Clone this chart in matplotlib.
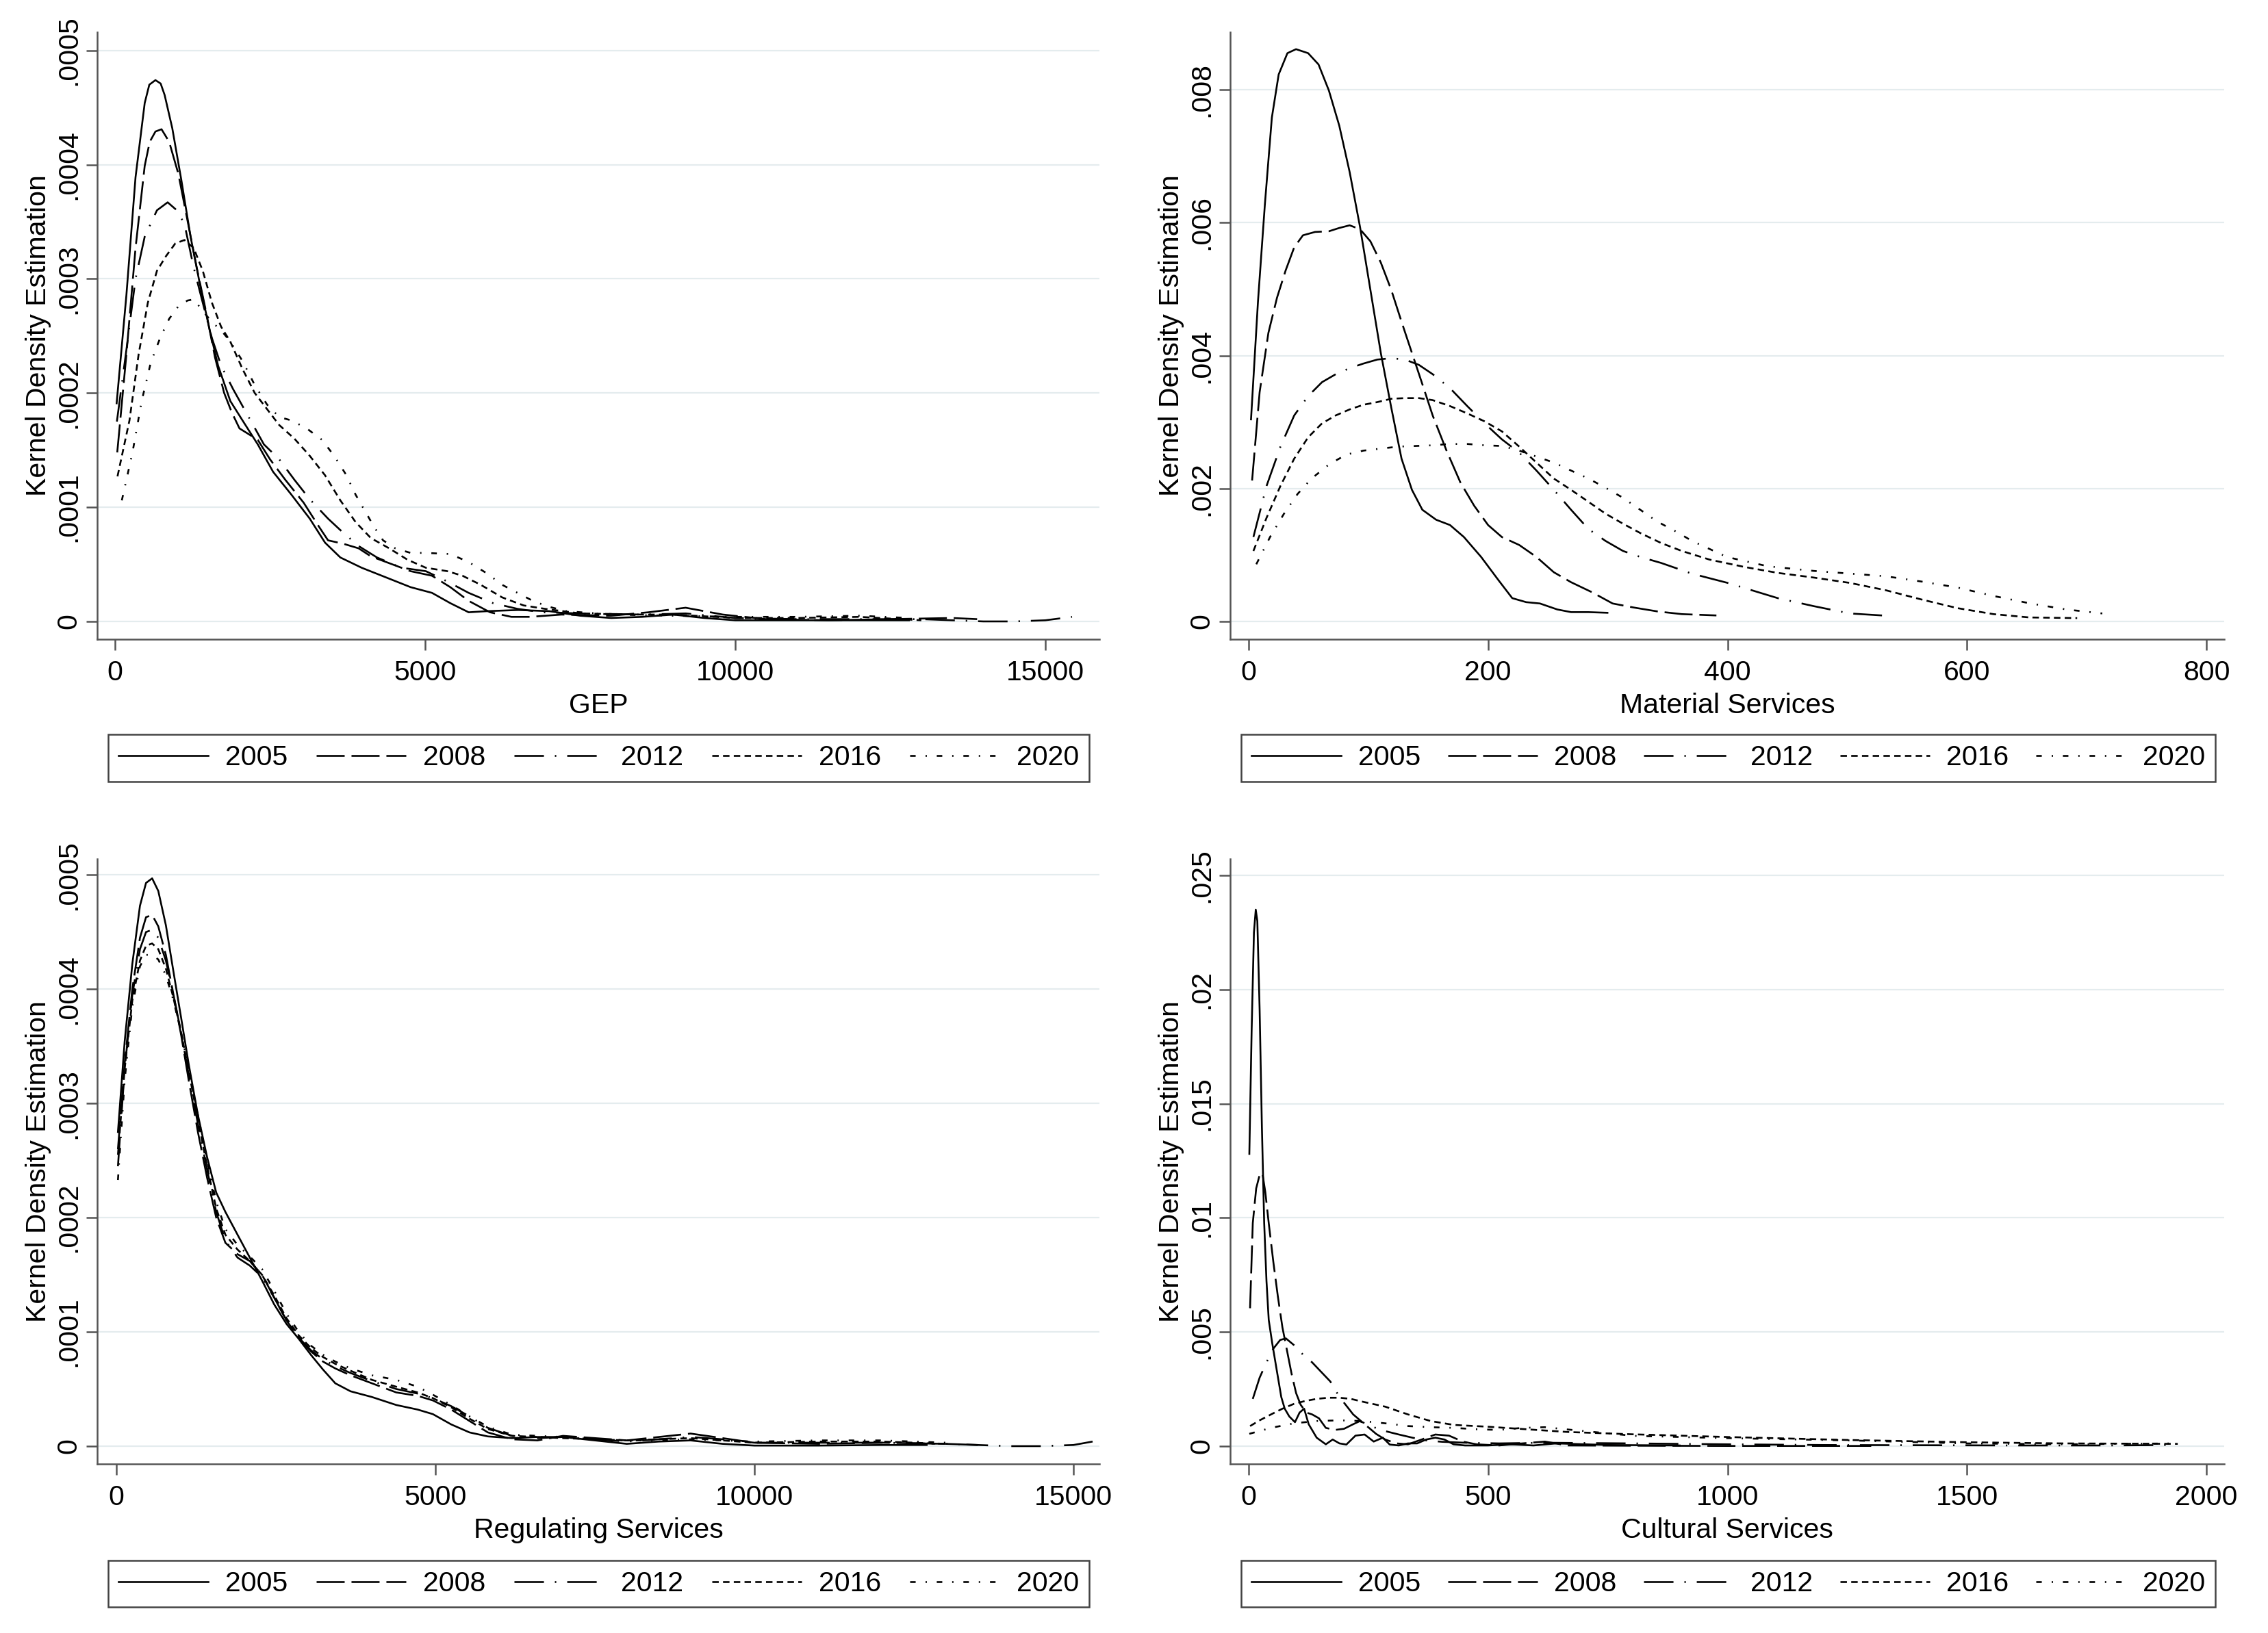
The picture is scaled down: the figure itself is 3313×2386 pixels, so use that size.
import numpy as np
import matplotlib
matplotlib.use("Agg")
import matplotlib.pyplot as plt
from matplotlib.lines import Line2D

plt.rcParams["font.family"] = ["Liberation Sans", "DejaVu Sans"]
plt.rcParams["lines.scale_dashes"] = False

YEARS = ["2005", "2008", "2012", "2016", "2020"]

# ---- GEP (density in 1e-4) ----
gep_x_2005 = [26, 184, 331, 479, 553, 652, 736, 800, 923, 1071, 1218, 1366, 1514, 1662, 1859, 2056, 2302, 2549, 2844, 3140,
              3386, 3633, 3977, 4372, 4766, 5111, 5406, 5702, 6000, 6500, 7000, 7500, 8000, 8500, 9000, 9500, 10000, 11000, 12000, 12800]
gep_y_2005 = [1.91, 2.86, 3.89, 4.54, 4.70, 4.74, 4.71, 4.61, 4.32, 3.86, 3.37, 2.96, 2.58, 2.24, 1.93, 1.76, 1.55, 1.31, 1.11, 0.90,
              0.69, 0.56, 0.47, 0.385, 0.30, 0.25, 0.16, 0.08, 0.09, 0.10, 0.09, 0.05, 0.03, 0.04, 0.06, 0.03, 0.01, 0.01, 0.01, 0.01]
gep_x_2008 = [36, 184, 331, 479, 560, 652, 750, 873, 1021, 1169, 1317, 1465, 1613, 1760, 1883, 2007, 2155, 2302, 2499, 2746,
              3041, 3288, 3435, 3682, 3928, 4125, 4421, 4766, 5111, 5406, 5702, 6047, 6392, 6688, 7200, 8000, 8600, 9200, 9800, 10500,
              11500, 12500, 13500, 13900]
gep_y_2008 = [1.48, 2.34, 3.27, 3.99, 4.20, 4.29, 4.31, 4.20, 3.92, 3.51, 3.10, 2.72, 2.31, 2.00, 1.83, 1.69, 1.64, 1.59, 1.42, 1.24,
              1.04, 0.83, 0.71, 0.68, 0.64, 0.57, 0.51, 0.44, 0.40, 0.30, 0.18, 0.08, 0.04, 0.04, 0.06, 0.05, 0.08, 0.12, 0.06, 0.02,
              0.01, 0.02, 0.03, 0.02]
gep_x_2012 = [30, 184, 331, 479, 676, 849, 997, 1120, 1268, 1415, 1563, 1711, 1908, 2155, 2401, 2647, 2893, 3140, 3435, 3633,
              3928, 4224, 4618, 5012, 5357, 5702, 6096, 6490, 6884, 7500, 8500, 9200, 10000, 11000, 12000, 13000, 13500, 14000, 14500, 15000,
              15430]
gep_y_2012 = [1.75, 2.38, 3.00, 3.37, 3.60, 3.67, 3.60, 3.48, 3.10, 2.79, 2.48, 2.24, 2.03, 1.79, 1.55, 1.42, 1.24, 1.07, 0.90, 0.80,
              0.66, 0.56, 0.47, 0.44, 0.35, 0.25, 0.16, 0.11, 0.08, 0.07, 0.06, 0.07, 0.03, 0.02, 0.02, 0.02, 0.01, 0.0, 0.0, 0.01,
              0.04]
gep_x_2016 = [40, 233, 381, 529, 676, 824, 972, 1120, 1268, 1415, 1563, 1711, 1859, 2056, 2253, 2450, 2647, 2893, 3140, 3386,
              3633, 3879, 4125, 4421, 4717, 5012, 5357, 5603, 5899, 6244, 6589, 6934, 7500, 8500, 9000, 10000, 11000, 12000, 13000]
gep_y_2016 = [1.27, 1.76, 2.34, 2.79, 3.07, 3.20, 3.31, 3.34, 3.27, 3.07, 2.79, 2.58, 2.45, 2.21, 2.00, 1.86, 1.72, 1.60, 1.45, 1.28,
              1.06, 0.87, 0.73, 0.64, 0.54, 0.47, 0.44, 0.40, 0.32, 0.21, 0.14, 0.11, 0.07, 0.06, 0.06, 0.03, 0.03, 0.04, 0.01]
gep_x_2020 = [110, 282, 430, 578, 726, 873, 1021, 1169, 1268, 1415, 1563, 1711, 1859, 2056, 2253, 2450, 2647, 2844, 3091, 3337,
              3534, 3731, 3879, 4027, 4175, 4322, 4519, 4766, 5012, 5406, 5702, 5998, 6244, 6490, 6737, 6983, 7278, 8000, 9000, 10000,
              11000, 12000, 12800]
gep_y_2020 = [1.06, 1.48, 1.93, 2.27, 2.48, 2.65, 2.76, 2.81, 2.82, 2.72, 2.62, 2.55, 2.45, 2.28, 2.07, 1.90, 1.79, 1.76, 1.69, 1.59,
              1.45, 1.28, 1.11, 0.97, 0.83, 0.71, 0.64, 0.60, 0.60, 0.59, 0.52, 0.42, 0.32, 0.25, 0.18, 0.13, 0.09, 0.06, 0.05, 0.04,
              0.04, 0.05, 0.03]

# ---- Material Services (density in 1e-3) ----
mat_x_2005 = [2, 7.8, 13.6, 19.4, 25.1, 32.4, 39.6, 49.7, 58.4, 67.0, 75.7, 84.4, 93.1, 101.7, 110.4, 119.1, 127.7, 136.4, 145.1, 156.6,
              168.2, 179.8, 194.2, 208.7, 220.2, 231.8, 243.3, 257.8, 269.3, 283.8, 299.7]
mat_y_2005 = [3.04, 4.81, 6.28, 7.58, 8.23, 8.55, 8.61, 8.55, 8.38, 7.99, 7.46, 6.76, 5.93, 4.99, 4.04, 3.22, 2.45, 1.98, 1.68, 1.53,
              1.45, 1.27, 0.97, 0.62, 0.35, 0.29, 0.27, 0.18, 0.14, 0.14, 0.13]
mat_x_2008 = [2.9, 9.2, 16.5, 23.7, 30.9, 38.1, 45.4, 55.5, 67.0, 75.7, 84.4, 93.1, 101.7, 110.4, 119.1, 127.7, 136.4, 145.1, 153.7, 165.3,
              176.9, 188.4, 200.0, 211.5, 226.0, 240.4, 254.9, 269.3, 286.7, 304.0, 321.4, 341.6, 361.8, 390.7]
mat_y_2008 = [2.12, 3.45, 4.34, 4.87, 5.28, 5.63, 5.81, 5.86, 5.87, 5.92, 5.96, 5.90, 5.72, 5.40, 4.99, 4.51, 4.04, 3.57, 3.10, 2.57,
              2.09, 1.74, 1.45, 1.27, 1.15, 0.97, 0.74, 0.59, 0.44, 0.27, 0.21, 0.15, 0.11, 0.09]
mat_x_2012 = [4.0, 15.0, 26.6, 38.1, 49.7, 61.3, 72.8, 84.4, 95.9, 107.5, 119.1, 130.6, 142.2, 153.7, 168.2, 182.6, 197.1, 211.5, 226.0, 240.4,
              254.9, 269.3, 283.8, 298.2, 312.7, 327.1, 344.5, 370, 400, 442, 472, 502, 529]
mat_y_2012 = [1.27, 2.04, 2.63, 3.10, 3.39, 3.60, 3.72, 3.81, 3.88, 3.94, 3.96, 3.94, 3.86, 3.72, 3.51, 3.24, 2.98, 2.74, 2.54, 2.27,
              1.98, 1.68, 1.39, 1.21, 1.06, 0.97, 0.88, 0.72, 0.58, 0.35, 0.23, 0.12, 0.09]
mat_x_2016 = [4.0, 15.0, 26.6, 38.1, 49.7, 61.3, 72.8, 84.4, 95.9, 107.5, 119.1, 130.6, 142.2, 153.7, 168.2, 182.6, 197.1, 211.5, 226.0, 240.4,
              254.9, 269.3, 283.8, 298.2, 312.7, 327.1, 344.5, 361.8, 385, 414, 442, 472, 502, 532, 562, 592, 622, 652, 692]
mat_y_2016 = [1.06, 1.56, 2.04, 2.45, 2.77, 2.98, 3.10, 3.19, 3.26, 3.30, 3.35, 3.36, 3.36, 3.33, 3.24, 3.13, 3.01, 2.86, 2.63, 2.39,
              2.15, 1.98, 1.80, 1.62, 1.47, 1.33, 1.18, 1.06, 0.93, 0.82, 0.73, 0.66, 0.58, 0.47, 0.33, 0.20, 0.11, 0.06, 0.05]
mat_x_2020 = [6.4, 17.9, 29.5, 41.0, 52.6, 67.0, 81.5, 95.9, 110.4, 124.8, 139.3, 153.7, 168.2, 182.6, 197.1, 211.5, 226.0, 240.4, 254.9, 269.3,
              283.8, 298.2, 312.7, 327.1, 341.6, 356.1, 370.5, 385.0, 399.4, 413.9, 433.6, 472, 502, 532, 562, 592, 623, 653, 683, 713]
mat_y_2020 = [0.86, 1.27, 1.62, 1.92, 2.15, 2.36, 2.51, 2.57, 2.60, 2.63, 2.64, 2.65, 2.67, 2.67, 2.65, 2.64, 2.57, 2.48, 2.39, 2.27,
              2.15, 2.01, 1.86, 1.68, 1.50, 1.36, 1.21, 1.09, 0.97, 0.91, 0.83, 0.76, 0.72, 0.68, 0.60, 0.51, 0.38, 0.27, 0.18, 0.12]

# ---- Regulating Services (density in 1e-4) ----
reg_x = [25, 130, 250, 370, 465, 561, 657, 776, 896, 1015, 1135, 1278, 1422, 1565, 1709, 1900, 2092, 2283, 2474, 2666,
         2857, 3048, 3239, 3431, 3670, 4005, 4387, 4722, 4961, 5248, 5535, 5822, 6200, 6600, 7000, 7500, 8000, 8500, 9000, 9500,
         10000, 11000, 12000]
reg_x_2005 = reg_x + [12700]
reg_y_2005 = [2.75, 3.54, 4.22, 4.73, 4.93, 4.97, 4.86, 4.56, 4.15, 3.75, 3.34, 2.90, 2.53, 2.22, 2.05, 1.85, 1.65, 1.45, 1.24, 1.07,
              0.94, 0.80, 0.67, 0.55, 0.48, 0.43, 0.36, 0.32, 0.28, 0.19, 0.12, 0.085, 0.07, 0.08, 0.08, 0.05, 0.02, 0.04, 0.05, 0.02,
              0.005, 0.005, 0.01, 0.01]
reg_x_2008 = reg_x + [13000, 13500]
reg_y_2008 = [2.6, 3.35, 4.0, 4.45, 4.63, 4.65, 4.55, 4.30, 3.95, 3.60, 3.20, 2.75, 2.35, 2.00, 1.78, 1.68, 1.62, 1.50, 1.30, 1.10,
              0.95, 0.83, 0.74, 0.68, 0.62, 0.55, 0.47, 0.44, 0.40, 0.32, 0.22, 0.12, 0.06, 0.05, 0.09, 0.07, 0.05, 0.08, 0.11, 0.07,
              0.03, 0.02, 0.03, 0.02, 0.01]
reg_x_2012 = reg_x + [13000, 14000, 14500, 15000, 15300]
reg_y_2012 = [2.45, 3.3, 3.95, 4.35, 4.5, 4.52, 4.45, 4.25, 3.95, 3.62, 3.25, 2.82, 2.42, 2.05, 1.80, 1.65, 1.58, 1.48, 1.30, 1.10,
              0.95, 0.84, 0.76, 0.70, 0.64, 0.57, 0.50, 0.46, 0.42, 0.35, 0.26, 0.16, 0.09, 0.07, 0.08, 0.06, 0.04, 0.06, 0.08, 0.06,
              0.03, 0.03, 0.03, 0.02, 0.0, 0.0, 0.01, 0.04]
reg_x_2016 = reg_x + [13000]
reg_y_2016 = [2.55, 3.3, 3.9, 4.25, 4.38, 4.40, 4.35, 4.18, 3.92, 3.62, 3.28, 2.86, 2.45, 2.08, 1.85, 1.72, 1.62, 1.50, 1.32, 1.12,
              0.97, 0.86, 0.78, 0.72, 0.66, 0.58, 0.52, 0.47, 0.42, 0.34, 0.24, 0.15, 0.09, 0.08, 0.07, 0.06, 0.05, 0.06, 0.07, 0.05,
              0.03, 0.04, 0.04, 0.02]
reg_x_2020 = reg_x + [13000]
reg_y_2020 = [2.33, 3.2, 3.85, 4.2, 4.3, 4.30, 4.26, 4.12, 3.90, 3.62, 3.30, 2.90, 2.50, 2.14, 1.90, 1.76, 1.66, 1.55, 1.36, 1.16,
              1.00, 0.88, 0.80, 0.74, 0.68, 0.62, 0.58, 0.52, 0.45, 0.36, 0.26, 0.17, 0.10, 0.09, 0.08, 0.06, 0.05, 0.05, 0.06, 0.05,
              0.04, 0.05, 0.05, 0.03]

# ---- Cultural Services (density in 1e-3) ----
cul_x_2005 = [1.4, 6.2, 11.0, 14.8, 18.1, 22.9, 27.6, 32.4, 37.2, 41.9, 49.1, 58.6, 68.1, 75.3, 84.8, 96.7, 106.3, 115.8, 125.3, 142.0,
              161.1, 175.4, 189.6, 204.0, 223.0, 242.1, 261.1, 280.2, 294.5, 313.5, 332.6, 351.7, 370.7, 389.8, 408.8, 427.9, 451.7, 499.4, 547.0, 594.7,
              642.3, 750, 900]
cul_y_2005 = [12.8, 18.2, 22.5, 23.5, 23.0, 19.1, 14.0, 9.77, 7.23, 5.53, 4.52, 3.33, 2.15, 1.64, 1.30, 1.05, 1.47, 1.64, 0.96, 0.37,
              0.08, 0.29, 0.12, 0.07, 0.46, 0.51, 0.20, 0.37, 0.07, 0.03, 0.12, 0.12, 0.29, 0.37, 0.29, 0.08, 0.03, 0.03, 0.08, 0.03,
              0.12, 0.05, 0.03]
cul_x_2008 = [2.9, 8.6, 15.7, 22.9, 28.6, 34.8, 41.9, 51.5, 61.0, 70.5, 80.1, 89.6, 99.1, 108.6, 120.6, 132.5, 146.8, 161.1, 180.1, 199.2,
              218.2, 232.5, 246.8, 265.9, 284.9, 308.8, 332.6, 361.2, 389.8, 418.4, 447.0, 475.5, 523.0, 571.0, 618.5, 666.0, 800, 1000, 1200, 1300]
cul_y_2008 = [6.04, 9.77, 11.29, 11.88, 11.97, 11.12, 9.77, 8.07, 6.55, 5.20, 4.18, 3.17, 2.32, 1.81, 1.47, 1.39, 1.22, 0.80, 0.71, 0.76,
              0.96, 1.10, 0.88, 0.54, 0.29, 0.12, 0.08, 0.29, 0.51, 0.46, 0.20, 0.08, 0.03, 0.12, 0.20, 0.03, 0.02, 0.01, 0.01, 0.01]
cul_x_2012 = [8.6, 22.9, 37.2, 51.5, 65.8, 77.7, 94.3, 113.4, 132.5, 151.5, 170.6, 184.9, 199.2, 218.2, 237.3, 261.1, 285.0, 313.5, 342.0, 370.7,
              404.0, 451.7, 523.0, 618.5, 800, 1000, 1200, 1400, 1600, 1800, 1930]
cul_y_2012 = [2.07, 3.00, 3.67, 4.27, 4.65, 4.72, 4.43, 4.01, 3.67, 3.25, 2.83, 2.32, 1.90, 1.39, 1.05, 0.83, 0.66, 0.51, 0.37, 0.25,
              0.19, 0.15, 0.12, 0.15, 0.12, 0.08, 0.05, 0.04, 0.03, 0.03, 0.05]
cul_x_2016 = [3.0, 22.9, 46.7, 70.5, 94.3, 118.2, 142.0, 165.8, 189.7, 213.5, 237.3, 285.0, 332.6, 380.0, 428.0, 500, 666, 800, 1000, 1250,
              1500, 1700, 1940]
cul_y_2016 = [0.88, 1.13, 1.39, 1.64, 1.85, 1.98, 2.07, 2.12, 2.12, 2.07, 1.95, 1.73, 1.39, 1.10, 0.93, 0.85, 0.62, 0.52, 0.40, 0.27,
              0.17, 0.12, 0.10]
cul_x_2020 = [1.4, 46.7, 94.3, 142.0, 189.7, 237.3, 285.0, 332.6, 380.0, 428.0, 475.5, 523.0, 571.0, 618.5, 666.0, 805, 1000, 1256, 1497, 1707,
              1933]
cul_y_2020 = [0.54, 0.80, 1.00, 1.10, 1.13, 1.10, 1.00, 0.88, 0.83, 0.80, 0.74, 0.71, 0.80, 0.83, 0.73, 0.45, 0.35, 0.25, 0.12, 0.08,
              0.12]

XLABELS = ["GEP", "Material Services", "Regulating Services", "Cultural Services"]
UNITS = [1e-4, 1e-3, 1e-4, 1e-3]
XTICKS = [[0, 5000, 10000, 15000], [0, 200, 400, 600, 800], [0, 5000, 10000, 15000], [0, 500, 1000, 1500, 2000]]
YTICKS = [[0, .0001, .0002, .0003, .0004, .0005], [0, .002, .004, .006, .008],
          [0, .0001, .0002, .0003, .0004, .0005], [0, .005, .01, .015, .02, .025]]
YTICKLABELS = [["0", ".0001", ".0002", ".0003", ".0004", ".0005"], ["0", ".002", ".004", ".006", ".008"],
               ["0", ".0001", ".0002", ".0003", ".0004", ".0005"], ["0", ".005", ".01", ".015", ".02", ".025"]]
SERIES = [
    [(gep_x_2005, gep_y_2005), (gep_x_2008, gep_y_2008), (gep_x_2012, gep_y_2012), (gep_x_2016, gep_y_2016), (gep_x_2020, gep_y_2020)],
    [(mat_x_2005, mat_y_2005), (mat_x_2008, mat_y_2008), (mat_x_2012, mat_y_2012), (mat_x_2016, mat_y_2016), (mat_x_2020, mat_y_2020)],
    [(reg_x_2005, reg_y_2005), (reg_x_2008, reg_y_2008), (reg_x_2012, reg_y_2012), (reg_x_2016, reg_y_2016), (reg_x_2020, reg_y_2020)],
    [(cul_x_2005, cul_y_2005), (cul_x_2008, cul_y_2008), (cul_x_2012, cul_y_2012), (cul_x_2016, cul_y_2016), (cul_x_2020, cul_y_2020)],
]

# ---- layout / style ----
W, H = 3313, 2386
AX_PX = [(142, 47, 1606, 934), (1797, 47, 3249, 934), (142, 1255, 1606, 2139), (1797, 1255, 3249, 2139)]
LEG_PX = [(158, 1069, 1591, 1146), (1813, 1069, 3236, 1146), (158, 2276, 1591, 2352), (1813, 2276, 3236, 2352)]
XLIMS = [(-287, 15872), (-15.4, 814.8), (-300, 15407), (-38.6, 2037)]
YLIMS = [(-0.0000156, 0.000516), (-0.000268, 0.008866), (-0.0000156, 0.000514), (-0.00078, 0.02572)]
STYLES = ["-", (0, (29.5, 7.2)), (0, (31, 11.5, 1.5, 11.5)), (0, (6.8, 4.5)), (0, (5.8, 10.4, 1.4, 10.4))]
FS = 29.5
LW = 1.9
AXC = "#555555"
GRIDC = "#E4ECEE"

fig = plt.figure(figsize=(W / 100, H / 100), dpi=100)
for i in range(4):
    l, t, r, b = AX_PX[i]
    ax = fig.add_axes([l / W, 1 - b / H, (r - l) / W, (b - t) / H])
    for (xs, ys), ls in zip(SERIES[i], STYLES):
        ax.plot(np.array(xs), np.array(ys) * UNITS[i], color="black", lw=LW, ls=ls,
                solid_joinstyle="round", dash_capstyle="butt")
    ax.set_xlim(*XLIMS[i])
    ax.set_ylim(*YLIMS[i])
    ax.set_xticks(XTICKS[i], [str(v) for v in XTICKS[i]])
    ax.set_yticks(YTICKS[i], YTICKLABELS[i])
    for s in ["top", "right"]:
        ax.spines[s].set_visible(False)
    for s in ["left", "bottom"]:
        ax.spines[s].set_color(AXC)
        ax.spines[s].set_linewidth(1.8)
    ax.tick_params(axis="both", direction="out", length=11.5, width=1.8, color=AXC, labelsize=FS)
    ax.tick_params(axis="x", pad=10)
    ax.tick_params(axis="y", pad=5, labelrotation=90)
    for lbl in ax.get_yticklabels():
        lbl.set_va("center")
    ax.yaxis.grid(True, color=GRIDC, lw=1.6)
    ax.set_axisbelow(True)
    ax.set_xlabel(XLABELS[i], fontsize=FS)
    ax.xaxis.label.set_va("baseline")
    ax.xaxis.set_label_coords(0.5, -108 / (b - t))
    ax.set_ylabel("Kernel Density Estimation", fontsize=FS)
    ax.yaxis.label.set_va("baseline")
    ax.yaxis.set_label_coords(-75 / (r - l), 0.5)

    ll, lt, lr, lb = LEG_PX[i]
    handles = [Line2D([], [], color="black", lw=LW, ls=ls) for ls in STYLES]
    leg = ax.legend(handles, YEARS, loc="center", ncol=5, mode="expand",
                    bbox_to_anchor=(ll / W, 1 - lb / H, (lr - ll) / W, (lb - lt) / H),
                    bbox_transform=fig.transFigure, borderaxespad=0, borderpad=0.37,
                    handlelength=3.2, handletextpad=0.6, fontsize=FS, frameon=True,
                    fancybox=False, framealpha=1)
    leg.get_frame().set_edgecolor("#444444")
    leg.get_frame().set_linewidth(1.8)

fig.savefig("out.png", dpi=100, facecolor="white")
